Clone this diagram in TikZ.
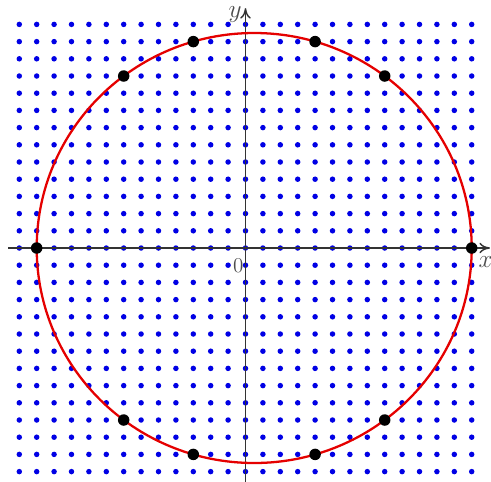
\documentclass[tikz,border=0pt]{standalone}
\usetikzlibrary{arrows.meta}
\begin{document}
\begin{tikzpicture}[x=0.348cm,y=0.344cm,
  lattice/.style={fill=blue!90!black},
  axis/.style={draw=black!80,line width=0.8pt,-{To[length=6pt,width=6pt]}},
  hit/.style={fill=black},
  curve/.style={draw=red!90!black,line width=1.3pt},
  lbl/.style={text=black!70,inner sep=0pt}]
\useasboundingbox (-14.109,-13.547) rectangle (14.109,14.419);
\fill[white] (-14.109,-13.547) rectangle (14.109,14.419);
\foreach \i in {-13,...,13}{
  \foreach \j in {-13,...,13}{
    \fill[lattice] (\i,\j) circle (0.055cm);
  }
}
\coordinate (xs) at (-13.63,0);
\coordinate (xe) at (14.05,0);
\coordinate (ys) at (0,-13.6);
\coordinate (ye) at (0,13.95);
\draw[axis] (xs) -- (xe);
\draw[axis] (ys) -- (ye);
\draw[curve] (0.5,0) ellipse [x radius=4.35cm, y radius=4.3cm];
\foreach \p in {(-12,0),(13,0),(-7,10),(8,10),(-3,12),(4,12),(-7,-10),(8,-10),(-3,-12),(4,-12)}{
  \fill[hit] \p circle (0.115cm);
}
\node[lbl,font=\Large\itshape] (ylab) at (-0.6,13.55) {$y$};
\node[lbl,font=\Large\itshape] (xlab) at (13.8,-0.8) {$x$};
\node[lbl,font=\large] (olab) at (-0.42,-1.0) {0};
\end{tikzpicture}
\end{document}
